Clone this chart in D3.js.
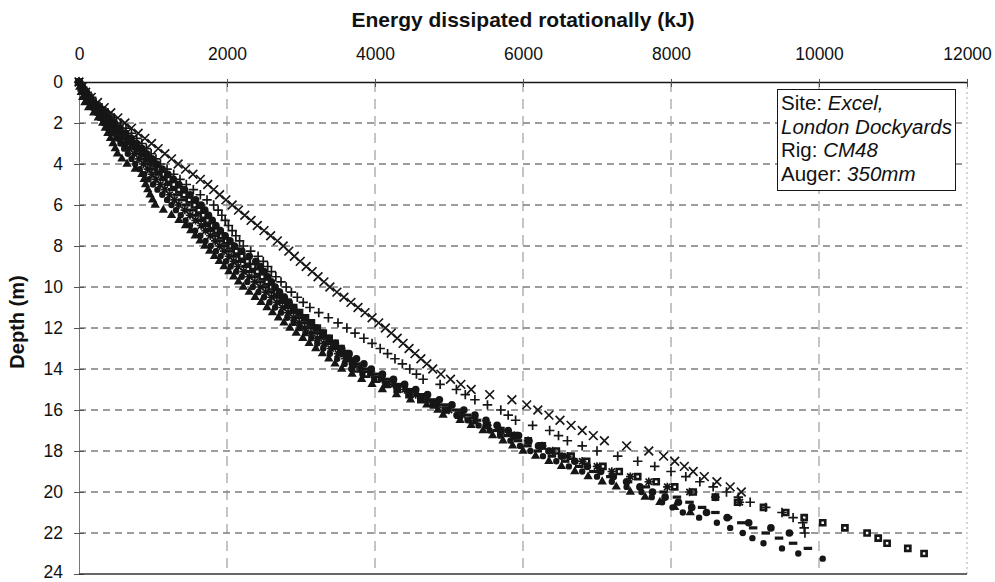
<!DOCTYPE html>
<html>
<head>
<meta charset="utf-8">
<script src="https://cdn.jsdelivr.net/npm/d3@7"></script>
<style>
  body { margin: 0; background: #fff; }
  svg { display: block; font-family: "Liberation Sans", Arial, sans-serif; }
</style>
</head>
<body>
<div id="chart"></div>
<script>
// axis ticks
const depthTicks = [0, 2, 4, 6, 8, 10, 12, 14, 16, 18, 20, 22, 24];
const energyTicks = [0, 2000, 4000, 6000, 8000, 10000, 12000];

// depth of each reading (m), shared by all series
const depths = [0,0.25,0.5,0.75,1,1.25,1.5,1.75,2,2.25,2.5,2.75,3,3.25,3.5,3.75,4,4.25,4.5,4.75,
  5,5.25,5.5,5.75,6,6.25,6.5,6.75,7,7.25,7.5,7.75,8,8.25,8.5,8.75,9,9.25,9.5,9.75,
  10,10.25,10.5,10.75,11,11.25,11.5,11.75,12,12.25,12.5,12.75,13,13.25,13.5,13.75,14,14.25,14.5,14.75,
  15,15.25,15.5,15.75,16,16.25,16.5,16.75,17,17.25,17.5,17.75,18,18.25,18.5,18.75,19,19.25,19.5,19.75,
  20,20.25,20.5,20.75,21,21.25,21.5,21.75,22,22.25,22.5,22.75,23,23.25];

// energy dissipated rotationally (kJ) for each pile, read at the depths above
const triangleEnergy = [0,10,30,50, 80,130,200,260, 320,355,390,425, 460,490,520,580, 650,760,850,880,
  900,930,960,995, 1030,1140,1250,1350, 1440,1510,1570,1635, 1700,1765,1830,1895, 1960,2025,2090,2155,
  2220,2300,2380,2460, 2540,2615,2695,2770, 2850,2935,3025,3110, 3200,3290,3375,3460, 3550,3690,3820,3960,
  4100,4290,4480,4700, 4850,4920,5150,5300, 5460,5590,5730,5860, 6000,6170,6350,6520, 6700,6880,7070,7260,
  7450,7650,7850,8050, 8260];
const smallDotEnergy = [0,30,65,100, 140,185,235,280, 330,390,445,505, 560,610,660,710, 760,820,880,940,
  1000,1060,1125,1190, 1250,1310,1375,1440, 1500,1570,1640,1710, 1780,1850,1915,1985, 2050,2125,2200,2275,
  2350,2425,2500,2575, 2650,2730,2815,2900, 2980,3060,3140,3220, 3300,3390,3490,3590, 3680,3830,3990,4140,
  4300,4460,4620,4790, 4950,5100,5250,5400, 5550,5690,5830,5960, 6100,6270,6450,6620, 6800,7000,7200,7400,
  7600,7740,7880,8020, 8160,8380,8620,8800, 8970,9100,9250,9500, 9720,10050];
const dashEnergy = [0,40,90,135, 180,240,300,360, 420,490,560,630, 700,765,825,890, 950,1010,1075,1140,
  1200,1260,1325,1390, 1450,1510,1575,1640, 1700,1760,1825,1890, 1950,2025,2100,2175, 2250,2310,2375,2440,
  2500,2575,2650,2725, 2800,2875,2950,3025, 3100,3190,3275,3360, 3450,3550,3650,3750, 3850,4000,4150,4300,
  4450,4610,4780,4940, 5100,5240,5380,5510, 5650,5790,5930,6060, 6200,6390,6570,6760, 6950,7180,7420,7660,
  7900,8080,8250,8420, 8600,8770,8950,9110, 9280,9460,9650,9850];
const starEnergy = [0,40,80,120, 160,215,270,325, 380,440,500,560, 620,680,745,810, 870,930,985,1040,
  1100,1160,1225,1290, 1350,1430,1500,1575, 1650,1710,1775,1840, 1900,1960,2025,2090, 2150,2225,2300,2375,
  2450,2525,2600,2675, 2750,2825,2900,2975, 3050,3135,3220,3310, 3400,3500,3600,3700, 3800,3950,4100,4250,
  4400,4550,4700,4850, 5000,5180,5350,5520, 5700,5880,6070,6260, 6400,6600,6800,7000, 7200,7450,7700,7950,
  8250,8600,8930];
const squareEnergy = [0,35,80,125, 170,240,310,380, 450,520,590,660, 730,800,865,930, 1000,1070,1140,1210,
  1280,1350,1420,1490, 1560,1620,1680,1740, 1800,1860,1925,1990, 2050,2125,2200,2275, 2350,2410,2475,2540,
  2600,2670,2750,2825, 2900,2980,3060,3140, 3220,3300,3380,3460, 3540,3590,3640,3700, 3750,3880,4020,4160,
  4300,4460,4620,4790, 4950,5130,5320,5510, 5700,5880,6070,6260, 6450,6650,6860,7080, 7300,7550,7800,8050,
  8300,8600,8900,9250, 9550,9800,10050,10350, 10650,10800,10920,11200, 11420];
const bigDotEnergy = [0,45,100,150, 200,270,340,410, 480,555,630,705, 780,850,915,985, 1050,1125,1200,1275,
  1350,1425,1500,1575, 1650,1700,1750,1800, 1850,1910,1975,2040, 2100,2200,2300,2390, 2450,2500,2550,2600,
  2650,2710,2775,2840, 2900,2975,3050,3125, 3200,3290,3380,3465, 3550,3650,3750,3850, 3950,4100,4250,4400,
  4550,4710,4870,5040, 5200,5350,5500,5650, 5800,5940,6080,6210, 6350,6520,6700,6870, 7050,7220,7400,7580,
  7750,7920,8100,8280, 8480,8760,9050,9350, 9600];
const plusEnergy = [0,50,110,170, 230,310,390,475, 560,635,710,780, 850,910,975,1040, 1100,1190,1280,1365,
  1450,1545,1640,1730, 1820,1880,1930,1975, 2020,2070,2120,2170, 2220,2320,2420,2490, 2550,2600,2660,2730,
  2800,2870,2950,3030, 3120,3240,3370,3500, 3620,3730,3850,3960, 4070,4170,4270,4370, 4470,4560,4650,4880,
  5100,5220,5350,5520, 5700,5800,5900,6130, 6360,6480,6600,6800, 7000,7280,7550,7780, 8000,8200,8390,8570,
  8750,8910,9070,9280, 9500,9650,9780,9800, 9810];
const crossEnergy = [0,40,90,165, 250,340,430,525, 620,710,800,890, 980,1070,1160,1250, 1340,1440,1540,1640,
  1740,1820,1900,1985, 2070,2155,2240,2325, 2410,2500,2590,2680, 2760,2835,2910,2990, 3070,3150,3230,3310,
  3390,3485,3580,3675, 3770,3865,3960,4050, 4140,4220,4300,4380, 4460,4540,4620,4700, 4780,4890,5020,5160,
  5300,5550,5850,6050, 6200,6350,6500,6650, 6800,6950,7100,7400, 7700,7900,8050,8180, 8300,8450,8620,8800,
  8950];

// text box
const boxLines = [
  [["Site: ", false], ["Excel,", true]],
  [["London Dockyards", true]],
  [["Rig: ", false], ["CM48", true]],
  [["Auger: ", false], ["350mm", true]]
];

const W = 995, H = 582;
const ink = "#161616";

const x = d3.scaleLinear().domain([0, 12000]).range([79, 967]);
const y = d3.scaleLinear().domain([0, 24]).range([82, 574]);

const svg = d3.select("#chart").append("svg")
    .attr("width", W)
    .attr("height", H);

// gridlines
svg.append("g")
    .selectAll("line")
    .data(depthTicks.filter(d => d > 0 && d < 24))
    .join("line")
    .attr("x1", x(0)).attr("x2", x(12000))
    .attr("y1", d => y(d)).attr("y2", d => y(d))
    .attr("stroke", "#3a3a3a")
    .attr("stroke-dasharray", "7,5");

svg.append("g")
    .selectAll("line")
    .data(energyTicks.filter(d => d > 0))
    .join("line")
    .attr("x1", d => x(d)).attr("x2", d => x(d))
    .attr("y1", y(0)).attr("y2", y(24))
    .attr("stroke", d => d === 12000 ? "#aaa" : "#8a8a8a")
    .attr("stroke-dasharray", d => d === 12000 ? "2,3" : "10,7");

// axes
const xAxis = d3.axisTop(x)
    .tickValues(energyTicks)
    .tickFormat(d3.format("d"))
    .tickSizeInner(-5)
    .tickSizeOuter(0)
    .tickPadding(22);

svg.append("g")
    .attr("transform", `translate(0,${y(0)})`)
    .call(xAxis)
    .attr("font-size", 17.5)
    .attr("font-family", null)
    .call(g => g.select(".domain").attr("stroke", ink).attr("stroke-width", 1.6))
    .call(g => g.selectAll(".tick line").attr("y1", -3).attr("stroke", "#555"))
    .call(g => g.selectAll(".tick text").attr("fill", "#111"));

const yAxis = d3.axisLeft(y)
    .tickValues(depthTicks)
    .tickSizeInner(5)
    .tickSizeOuter(0)
    .tickPadding(11);

svg.append("g")
    .attr("transform", `translate(${x(0)},0)`)
    .call(yAxis)
    .attr("font-size", 17.5)
    .attr("font-family", null)
    .call(g => g.select(".domain").attr("stroke", "#777"))
    .call(g => g.selectAll(".tick line").attr("x1", 5).attr("stroke", "#555"))
    .call(g => g.selectAll(".tick text").attr("fill", "#111")
        .attr("dy", d => d === 24 ? "0.2em" : "0.3em"));

svg.append("line")
    .attr("x1", x(0)).attr("x2", x(12000))
    .attr("y1", y(24)).attr("y2", y(24))
    .attr("stroke", "#333")
    .attr("stroke-width", 1.5);

// titles
svg.append("text")
    .attr("x", (x(0) + x(12000)) / 2)
    .attr("y", 27)
    .attr("text-anchor", "middle")
    .attr("font-size", 21)
    .attr("font-weight", "bold")
    .attr("fill", "#111")
    .text("Energy dissipated rotationally (kJ)");

svg.append("text")
    .attr("transform", "translate(24,322) rotate(-90)")
    .attr("text-anchor", "middle")
    .attr("font-size", 20)
    .attr("font-weight", "bold")
    .attr("fill", "#111")
    .text("Depth (m)");

// marker shapes
const symTimes = { draw(ctx, size) { const r = Math.sqrt(size) / 2;
    ctx.moveTo(-r, -r); ctx.lineTo(r, r); ctx.moveTo(r, -r); ctx.lineTo(-r, r); } };
const symPlus = { draw(ctx, size) { const r = Math.sqrt(size) / 2;
    ctx.moveTo(-r, 0); ctx.lineTo(r, 0); ctx.moveTo(0, -r); ctx.lineTo(0, r); } };
const symStar = { draw(ctx, size) { const r = Math.sqrt(size) / 2, q = r * 0.75;
    ctx.moveTo(-r, 0); ctx.lineTo(r, 0); ctx.moveTo(0, -r); ctx.lineTo(0, r);
    ctx.moveTo(-q, -q); ctx.lineTo(q, q); ctx.moveTo(q, -q); ctx.lineTo(-q, q); } };
const symDash = { draw(ctx, size) { const r = Math.sqrt(size) / 2;
    ctx.rect(-r, -1.6, 2 * r, 3.2); } };
const symBoxDot = { draw(ctx, size) { const r = Math.sqrt(size) / 2, h = r * 0.32;
    ctx.rect(-r, -r, 2 * r, 2 * r);
    ctx.moveTo(-h, -h); ctx.lineTo(-h, h); ctx.lineTo(h, h); ctx.lineTo(h, -h); ctx.closePath(); } };

const series = [
  { values: triangleEnergy, type: d3.symbolTriangle, size: 38, filled: true },
  { values: smallDotEnergy, type: d3.symbolCircle, size: 32, filled: true },
  { values: dashEnergy, type: symDash, size: 72, filled: true },
  { values: starEnergy, type: symStar, size: 72, filled: false },
  { values: squareEnergy, type: symBoxDot, size: 60, filled: true },
  { values: bigDotEnergy, type: d3.symbolCircle, size: 46, filled: true },
  { values: plusEnergy, type: symPlus, size: 90, filled: false },
  { values: crossEnergy, type: symTimes, size: 76, filled: false }
];

const plot = svg.append("g");
series.forEach(s => {
    const sym = d3.symbol().type(s.type).size(s.size);
    plot.append("g")
        .selectAll("path")
        .data(s.values.map((e, i) => [e, depths[i]]))
        .join("path")
        .attr("transform", d => `translate(${x(d[0])},${y(d[1])})`)
        .attr("d", sym)
        .attr("fill", s.filled ? ink : "none")
        .attr("stroke", s.filled ? "none" : ink)
        .attr("stroke-width", 1.7);
});

// site text box
const box = svg.append("g");
box.append("rect")
    .attr("x", 777.5).attr("y", 89.5)
    .attr("width", 178).attr("height", 101)
    .attr("fill", "#fff")
    .attr("stroke", ink);

box.selectAll("text")
    .data(boxLines)
    .join("text")
    .attr("x", 781)
    .attr("y", (d, i) => 110 + i * 23.5)
    .attr("font-size", 20.5)
    .attr("fill", "#111")
    .selectAll("tspan")
    .data(d => d)
    .join("tspan")
    .attr("font-style", d => d[1] ? "italic" : null)
    .text(d => d[0]);
</script>
</body>
</html>
